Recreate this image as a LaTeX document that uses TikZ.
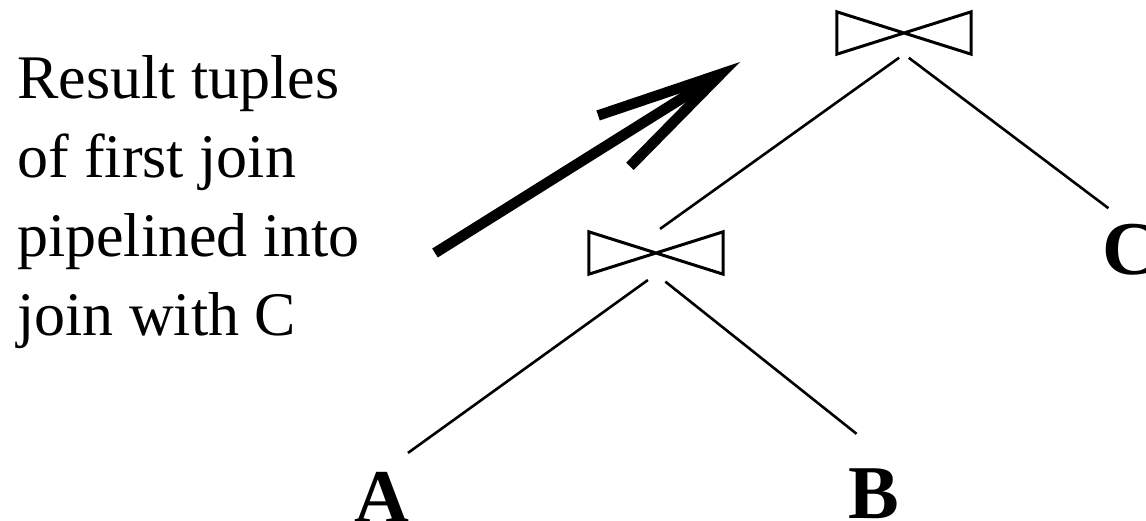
\documentclass[tikz,border=0pt]{standalone}
\usepackage{fontspec}
\setmainfont{Liberation Serif}
\usetikzlibrary{arrows.meta,positioning}

\begin{document}
\begin{tikzpicture}[
  x=1pt,y=-1pt,
  joinop/.style={rectangle,inner sep=0pt,minimum width=134pt,minimum height=42pt},
  rel/.style={inner sep=0pt,font=\bfseries\fontsize{76}{76}\selectfont},
  edge/.style={line width=2.6pt},
  pipe/.style={line width=10.5pt,-{Straight Barb[length=126pt,width=60pt,sharp]}},
  note/.style={inner sep=0pt,align=left,font=\fontsize{62}{78.7}\selectfont}]

\useasboundingbox (0,0) rectangle (1146,521);

% join operators
\node[joinop] (j1) at (656,253) {};
\node[joinop] (j2) at (904,33) {};
\foreach \j in {j1,j2}
  \draw[line width=3pt,line join=miter]
    (\j.north west) -- (\j.south east) -- (\j.north east) -- (\j.south west) -- cycle;

% relations
\node[rel,anchor=base] (A) at (382,522) {A};
\node[rel,anchor=base] (B) at (874,518) {B};
\node[rel,anchor=base] (C) at (1130,275) {C};

% tree edges
\draw[edge,shorten <=6pt,shorten >=5pt] (j2.south) -- (j1.north);
\draw[edge,shorten <=6pt,shorten >=27pt] (j2.south) -- (C.north);
\draw[edge,shorten <=10pt,shorten >=32pt] (j1.south) -- (A.north);
\draw[edge,shorten <=12pt,shorten >=55pt] (j1.south) -- (B.north east);

% pipelining arrow and note
\coordinate (tail) at (435,253);
\coordinate (tip) at (740,62);
\draw[pipe] (tail) -- (tip);
\node[note,anchor=base west] (txt) at (17,335)
  {Result tuples\\of first join\\pipelined into\\join with C};
\end{tikzpicture}
\end{document}
